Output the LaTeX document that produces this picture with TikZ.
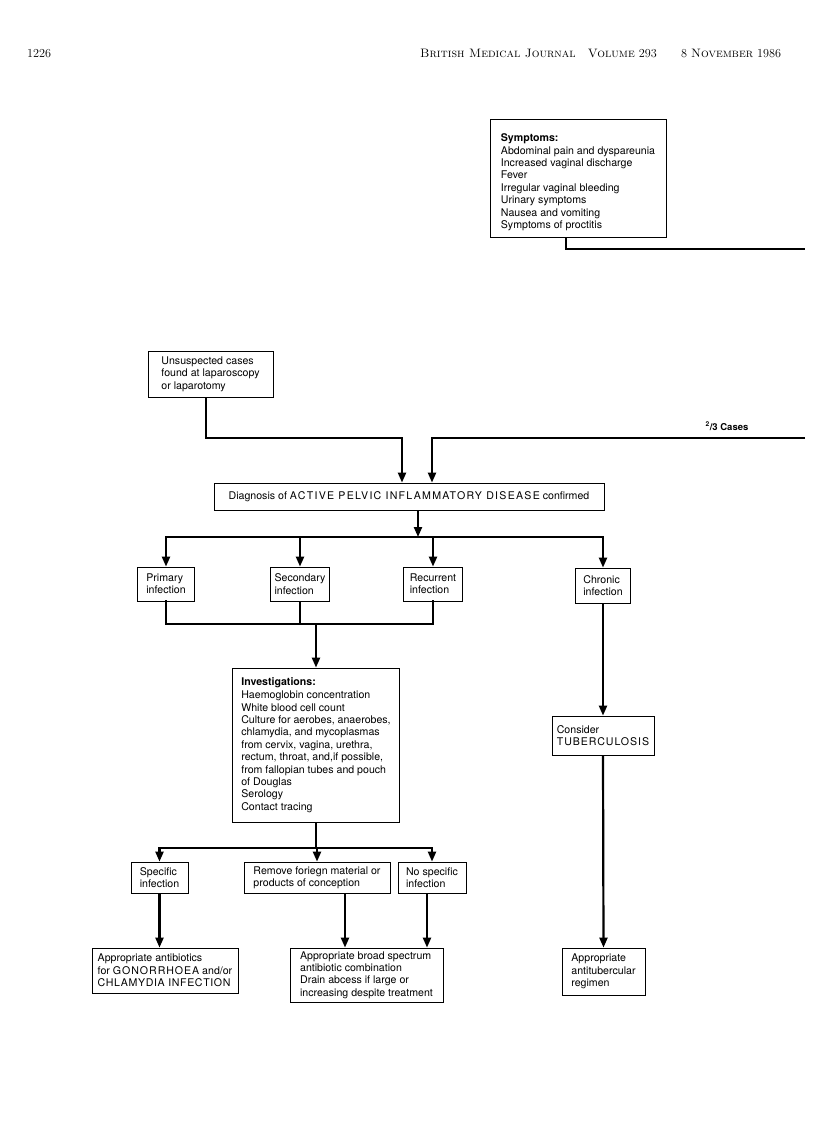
\documentclass[tikz,border=0pt]{standalone}
\usepackage{fontspec}
\setsansfont{TeX Gyre Heros}
\usetikzlibrary{arrows.meta}
\newcommand{\wcaps}[2][9]{{\addfontfeature{LetterSpace=#1}#2}}
\begin{document}
\begin{tikzpicture}[x=1pt,y=-1pt,
  every node/.style={font=\sffamily\fontsize{10.6}{12.4}\selectfont},
  box/.style={draw,line width=0.8pt,align=left,inner sep=0pt},
  head/.style={font=\rmfamily\fontsize{12.2}{14}\selectfont,anchor=base west,inner sep=0pt},
  flow/.style={line width=2.2pt},
  arr/.style={flow,-{Triangle[length=10pt,width=8pt]}}
]
\useasboundingbox (0,0) rectangle (816,1142);
% running head
\node[head] (pageno) at (27,58) {1226};
\node[head] (journal) at (420,58) {\textsc{British Medical Journal}\quad\textsc{Volume} 293\qquad 8 \textsc{November} 1986};
% boxes
\node[box,minimum width=176,minimum height=118] (symp) at (578,178)
  {\rule{0pt}{16pt}\textbf{Symptoms:}\\[0.5pt] Abdominal pain and dyspareunia\\ Increased vaginal discharge\\ Fever\\
   Irregular vaginal bleeding\\ Urinary symptoms\\ Nausea and vomiting\\ Symptoms of proctitis};
\node[box,minimum width=125,minimum height=46] (unsusp) at (210.5,374)
  {Unsuspected cases\\ found at laparoscopy\\ or laparotomy};
\node[box,minimum width=390,minimum height=27] (diag) at (409,496.5)
  {Diagnosis of \wcaps[12]{ACTIVE PELVIC INFLAMMATORY DISEASE} confirmed};
\node[box,minimum width=57,minimum height=34] (prim) at (166,584) {Primary\\ infection};
\node[box,minimum width=59,minimum height=34] (sec) at (300,584) {Secondary\\ infection};
\node[box,minimum width=59,minimum height=34] (rec) at (433,584) {Recurrent\\ infection};
\node[box,minimum width=55,minimum height=35] (chron) at (603,585.5) {Chronic\\ infection};
\node[box,minimum width=167,minimum height=154] (inv) at (316,745)
  {\textbf{Investigations:}\\[1pt] Haemoglobin concentration\\ White blood cell count\\
   Culture for aerobes, anaerobes,\\ chlamydia, and mycoplasmas\\ from cervix, vagina, urethra,\\
   rectum, throat, and,if possible,\\ from fallopian tubes and pouch\\ of Douglas\\ Serology\\ Contact tracing};
\node[box,minimum width=102,minimum height=39] (tb) at (603,735.5) {Consider\\ \wcaps{TUBERCULOSIS}};
\node[box,minimum width=57,minimum height=31] (spec) at (159.5,877.5) {Specific\\ infection};
\node[box,minimum width=146,minimum height=31] (remove) at (317,877.5) {Remove foriegn material or\\ products of conception};
\node[box,minimum width=68,minimum height=31] (nospec) at (432,877.5) {No specific\\ infection};
\node[box,minimum width=146,minimum height=45] (anti) at (165,970.5)
  {Appropriate antibiotics\\ for \wcaps{GONORRHOEA} and/or\\ \wcaps[6]{CHLAMYDIA INFECTION}};
\node[box,minimum width=153,minimum height=54] (broad) at (366.5,975)
  {Appropriate broad spectrum\\ antibiotic combination\\ Drain abcess if large or\\ increasing despite treatment};
\node[box,minimum width=83,minimum height=47] (tubreg) at (603.5,971.5)
  {Appropriate\\ antitubercular\\ regimen};
% lines running off the page
\coordinate (sympEnd) at (805,249);
\coordinate (cases) at (805,438);
\node[font=\sffamily\bfseries\fontsize{9.5}{11}\selectfont] (caseslbl) at (727,426) {\textsuperscript{2}/3 Cases};
% connectors
\draw[flow] (symp.south -| 566,0) |- (sympEnd);
\draw[arr] (unsusp.south -| 206,0) |- (402,438) -- (diag.north -| 402,0);
\draw[arr] (cases) -| (diag.north -| 432,0);
\draw[arr] (diag.south -| 418,0) -- (418,537);
\draw[flow,line cap=rect] (prim.north |- 0,537) -- (chron.north |- 0,537);
\foreach \b in {prim,sec,rec,chron}
  \draw[arr] (\b.north |- 0,537) -- (\b.north);
\draw[flow,line cap=rect] (prim.south) |- (rec.south |- 0,624) -- (rec.south);
\draw[flow] (sec.south) -- (sec.south |- 0,624);
\draw[arr] (inv.north |- 0,624) -- (inv.north);
\draw[flow] (inv.south) -- (inv.south |- 0,848);
\draw[flow,line cap=rect] (spec.north |- 0,848) -- (nospec.north |- 0,848);
\foreach \b in {spec,remove,nospec}
  \draw[arr] (\b.north |- 0,848) -- (\b.north);
\draw[arr] (spec.south) -- (spec.south |- anti.north);
\draw[arr] (remove.south -| 345,0) -- (broad.north -| 345,0);
\draw[arr] (nospec.south -| 427,0) -- (broad.north -| 427,0);
\draw[arr] (chron.south) -- (tb.north);
\draw[arr] (tb.south) -- (tubreg.north);
\end{tikzpicture}
\end{document}
